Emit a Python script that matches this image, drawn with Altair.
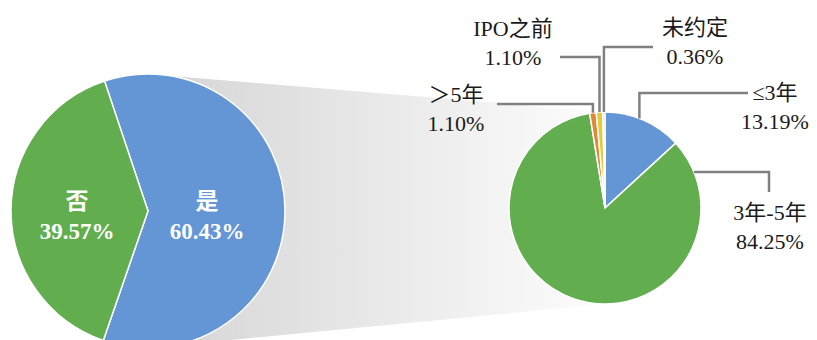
import math
import altair as alt
import pandas as pd

# ---------------- data ----------------
left_cats = ["是", "否"]
left_vals = [60.43, 39.57]
left_colors = ["#6495D5", "#62AE4F"]

right_cats = ["≤3年", "3年-5年", "＞5年", "IPO之前", "未约定"]
right_vals = [13.19, 84.25, 1.10, 1.10, 0.36]
right_colors = ["#6495D5", "#62AE4F", "#E0873A", "#E3CB3B", "#CFC6E4"]

# ---------------- layout ----------------
W, H = 801, 332
LCX, LCY, RL = 140, 203, 137          # left pie centre / radius
RCX, RCY, RR = 597, 200, 96           # right pie centre / radius
LEFT_START_DEG = 341.5                # where the "是" slice begins
FONT = "Liberation Serif, Noto Sans CJK SC"

# label positions (centre x, first line y) for each category
left_label_pos = {"是": (199, 194), "否": (69, 194)}
right_label_pos = {
    "≤3年": (767, 85),
    "3年-5年": (762, 205),
    "＞5年": (448, 87),
    "IPO之前": (505, 21),
    "未约定": (687, 20),
}
LINE_GAP = 29

# leader lines: (anchor angle on the pie in deg, kind, label-side x, label-side y)
leader = {
    "≤3年": (21.0, "h", 740, 85),
    "3年-5年": (68.0, "v", 761, 184),
    "＞5年": (None, "h", 489, 96),
    "IPO之前": (None, "h", 552, 49),
    "未约定": (None, "h", 645, 39),
}

xs = alt.Scale(domain=[0, W], range=[0, W])
ys = alt.Scale(domain=[0, H], range=[0, H])

# ---------------- band ----------------
band_df = pd.DataFrame({
    "x": [LCX, RCX],
    "y": [LCY - RL, RCY - RR],
    "y2": [LCY + RL, RCY + RR],
})
band = alt.Chart(band_df).mark_area(
    clip=True,
    color=alt.LinearGradient(
        gradient="linear",
        stops=[alt.GradientStop(color="#d4d4d4", offset=0),
               alt.GradientStop(color="#fdfdfd", offset=1)],
        x1=0, x2=1, y1=0, y2=0,
    ),
).encode(
    x=alt.X("x:Q", scale=xs, axis=None),
    y=alt.Y("y:Q", scale=ys, axis=None),
    y2="y2:Q",
)

# ---------------- pies ----------------
left_df = pd.DataFrame({"cat": left_cats, "value": left_vals,
                        "color": left_colors, "idx": range(len(left_cats))})
a0 = math.radians(LEFT_START_DEG)
left_pie = alt.Chart(left_df).mark_arc(
    radius=RL, stroke="white", strokeWidth=1.5, clip=True
).encode(
    theta=alt.Theta("value:Q", stack=True,
                    scale=alt.Scale(range=[a0, a0 + 2 * math.pi])),
    color=alt.Color("color:N", scale=None),
    order=alt.Order("idx:Q"),
    x=alt.value(LCX), y=alt.value(LCY),
)

right_df = pd.DataFrame({"cat": right_cats, "value": right_vals,
                         "color": right_colors, "idx": range(len(right_cats))})
right_pie = alt.Chart(right_df).mark_arc(
    radius=RR, stroke="white", strokeWidth=1.5
).encode(
    theta=alt.Theta("value:Q", stack=True,
                    scale=alt.Scale(range=[0, 2 * math.pi])),
    color=alt.Color("color:N", scale=None),
    order=alt.Order("idx:Q"),
    x=alt.value(RCX), y=alt.value(RCY),
)

# ---------------- leader lines ----------------
total = sum(right_vals)
cum = 0.0
mids = {}
for c, v in zip(right_cats, right_vals):
    mids[c] = (cum + v / 2) / total * 360.0
    cum += v

rows = []
for c, (ang, kind, lx, ly) in leader.items():
    a = math.radians(ang if ang is not None else mids[c])
    ex = RCX + RR * math.sin(a)
    ey = RCY - RR * math.cos(a)
    if kind == "h":
        pts = [(lx, ly), (ex, ly), (ex, ey)]
    else:
        pts = [(lx, ly), (lx, ey), (ex, ey)]
    for k, (px, py) in enumerate(pts):
        rows.append({"name": c, "k": k, "x": px, "y": py})
lines_df = pd.DataFrame(rows)
lines = alt.Chart(lines_df).mark_line(
    color="#808080", strokeWidth=2.5, strokeJoin="miter"
).encode(
    x=alt.X("x:Q", scale=xs, axis=None),
    y=alt.Y("y:Q", scale=ys, axis=None),
    detail="name:N",
    order="k:Q",
)

# ---------------- labels ----------------
lrows = []
for c, v in zip(left_cats, left_vals):
    x, y = left_label_pos[c]
    lrows.append({"text": c, "x": x, "y": y})
    lrows.append({"text": f"{v:.2f}%", "x": x, "y": y + LINE_GAP + 1})
left_text = alt.Chart(pd.DataFrame(lrows)).mark_text(
    font=FONT, fontSize=23, fontWeight="bold", color="white",
    align="center", baseline="middle",
).encode(
    x=alt.X("x:Q", scale=xs, axis=None),
    y=alt.Y("y:Q", scale=ys, axis=None),
    text="text:N",
)

rrows = []
for c, v in zip(right_cats, right_vals):
    x, y = right_label_pos[c]
    rrows.append({"text": c, "x": x, "y": y})
    rrows.append({"text": f"{v:.2f}%", "x": x, "y": y + LINE_GAP})
right_text = alt.Chart(pd.DataFrame(rrows)).mark_text(
    font=FONT, fontSize=22, color="#1a1a1a",
    align="center", baseline="middle",
).encode(
    x=alt.X("x:Q", scale=xs, axis=None),
    y=alt.Y("y:Q", scale=ys, axis=None),
    text="text:N",
)

chart = alt.layer(
    band, left_pie, right_pie, lines, left_text, right_text
).resolve_scale(
    theta="independent"
).properties(
    width=W, height=H, padding=0, autosize="none"
).configure_view(stroke=None)

chart.save("out.html", embed_options={"renderer": "svg", "actions": False})
